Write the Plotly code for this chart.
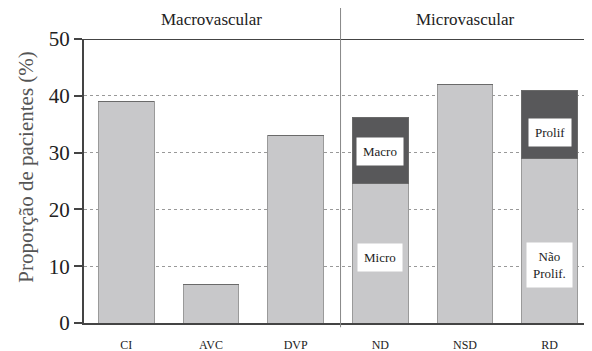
import plotly.graph_objects as go

categories = ["CI", "AVC", "DVP", "ND", "NSD", "RD"]
base_values = [39, 6.7, 33, 24.5, 42, 29]
top_values = [0, 0, 0, 11.7, 0, 12]
group_labels = ["Macrovascular", "Microvascular"]
y_ticks = [0, 10, 20, 30, 40, 50]
y_title = "Proporção de pacientes (%)"

FONT = "Liberation Serif"
LIGHT = "#c8c8ca"
DARK = "#58585a"

fig = go.Figure()
fig.add_trace(go.Bar(x=categories, y=base_values, marker=dict(color=LIGHT, line=dict(color="#9a9a9a", width=1)),
                     width=0.66, showlegend=False, hoverinfo="skip"))
fig.add_trace(go.Bar(x=categories, y=top_values, marker=dict(color=DARK, line=dict(color="#6a6a6a", width=1)),
                     width=0.66, showlegend=False, hoverinfo="skip"))

fig.update_layout(
    barmode="stack",
    width=584, height=343,
    margin=dict(l=76, r=0, t=31, b=28, autoexpand=False),
    plot_bgcolor="white", paper_bgcolor="white",
    font=dict(family=FONT, color="#333"),
    xaxis=dict(range=[-0.5, 5.5], showline=True, linecolor="#444", linewidth=2,
               ticks="", ticklabelstandoff=10, tickfont=dict(family=FONT, size=12, color="#222"),
               showgrid=False, automargin=False),
    yaxis=dict(range=[0, 50], tickvals=y_ticks, ticks="outside", ticklen=8, tickwidth=1.5,
               tickcolor="#444", showline=True, linecolor="#444", linewidth=2,
               tickfont=dict(family=FONT, size=21, color="#222"), automargin=False,
               showgrid=True, gridcolor="#999", griddash="dot", gridwidth=1,
               zeroline=False),
)

# y-axis title
fig.add_annotation(text=y_title, xref="paper", yref="paper", x=-0.142, y=0.55, textangle=-90,
                   showarrow=False, font=dict(family=FONT, size=21, color="#555"))

# top border line at 50
fig.add_shape(type="line", xref="paper", yref="y", x0=-0.014, x1=1, y0=50, y1=50,
              line=dict(color="#444", width=2), layer="above")
# vertical divider
fig.add_shape(type="line", xref="x", yref="paper", x0=2.53, x1=2.53, y0=-0.015, y1=1.12,
              line=dict(color="#888", width=1), layer="above")

fig.add_annotation(text=group_labels[0], xref="x", yref="paper", x=1, y=1.067, showarrow=False,
                   yanchor="middle", font=dict(family=FONT, size=17, color="#222"))
fig.add_annotation(text=group_labels[1], xref="x", yref="paper", x=4.0, y=1.067, showarrow=False,
                   yanchor="middle", font=dict(family=FONT, size=17, color="#222"))

box_labels = [("ND", 30.2, "Macro"), ("ND", 11.6, "Micro"), ("RD", 33.5, "Prolif"), ("RD", 10.3, "Não<br>Prolif.")]
for cat, yv, txt in box_labels:
    fig.add_annotation(text=txt, x=cat, y=yv, showarrow=False, bgcolor="white",
                       borderpad=6, font=dict(family=FONT, size=13, color="#222"))

fig.write_html("out.html")
